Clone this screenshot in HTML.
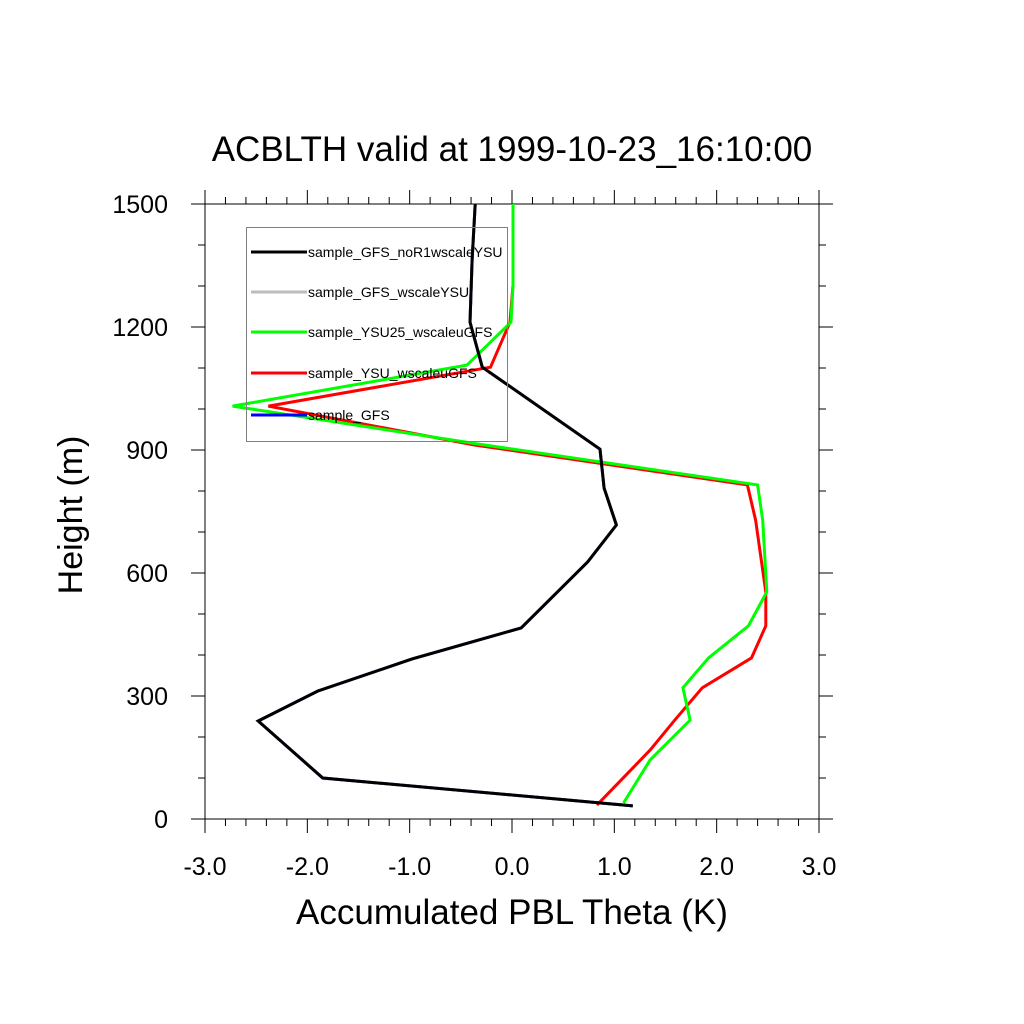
<!DOCTYPE html>
<html><head><meta charset="utf-8"><style>
body{margin:0;background:#fff;}
svg{display:block;font-family:"Liberation Sans",sans-serif;}
</style></head><body>
<svg id="chart" width="1024" height="1024" viewBox="0 0 1024 1024">
<rect width="1024" height="1024" fill="#fff"/>
<text x="512" y="161" text-anchor="middle" font-size="35">ACBLTH valid at 1999-10-23_16:10:00</text>
<text x="512" y="924" text-anchor="middle" font-size="35">Accumulated PBL Theta (K)</text>
<text transform="translate(82,515) rotate(-90)" text-anchor="middle" font-size="34">Height (m)</text>
<g id="axes"></g>
<g id="series"></g>
<g id="legend"></g>
</svg>
<script>
const xTicks=[-3,-2,-1,0,1,2,3];
const xTickLabels=["-3.0","-2.0","-1.0","0.0","1.0","2.0","3.0"];
const yTicks=[0,300,600,900,1200,1500];
const yTickLabels=["0","300","600","900","1200","1500"];
const seriesNames=["sample_GFS_noR1wscaleYSU","sample_GFS_wscaleYSU","sample_YSU25_wscaleuGFS","sample_YSU_wscaleuGFS","sample_GFS"];
const blackX=[-0.36,-0.39,-0.41,-0.29,0.86,0.90,1.02,0.74,0.09,-0.98,-1.90,-2.48,-1.85,1.18];
const blackH=[1500,1363,1212,1102,902,807,717,627,466,390,312,239,100,32];
const greenX=[0.01,0.01,-0.01,-0.44,-2.73,-0.26,2.40,2.45,2.49,2.31,1.92,1.67,1.74,1.35,1.09];
const greenH=[1500,1302,1212,1107,1007,912,815,729,554,471,393,320,241,144,39];
const redX=[0.01,0.01,-0.02,-0.21,-2.38,-0.36,2.30,2.38,2.48,2.48,2.34,1.86,1.59,1.35,0.83];
const redH=[1500,1302,1212,1102,1007,912,815,729,554,471,393,320,241,168,34];

const NS="http://www.w3.org/2000/svg";
const L=205,R=819,T=204,B=819;
const sx=v=>L+(v+3)/6*(R-L);
const sy=h=>B-h/1500*(B-T);
function mk(tag,attrs,parent){const e=document.createElementNS(NS,tag);for(const k in attrs)e.setAttribute(k,attrs[k]);parent.appendChild(e);return e;}
const axes=document.getElementById('axes');
let fr=mk('rect',{x:L,y:T,width:R-L,height:B-T,fill:'none',stroke:'#000','stroke-width':1},axes);


let ext=mk('path',{d:`M${L},${T} H833 M${L},${B} H833 M${L},190 V${B} M${R},190 V833`,stroke:'#000','stroke-width':1,fill:'none'},axes);


for(let v=-3;v<=3.001;v+=0.2){
  const major=Math.abs(v-Math.round(v))<0.01;
  const x=sx(v),len=major?14:7;
  const t=mk('path',{d:`M${x},${B} V${B+len} M${x},${T-len} V${T}`,stroke:'#000','stroke-width':1},axes);
  
  
}
xTicks.forEach((v,i)=>{
  const t=mk('text',{x:sx(v),y:875,'text-anchor':'middle','font-size':25},axes);
  t.textContent=xTickLabels[i];
  
  
});
for(let h=0;h<=1500;h+=100){
  const major=h%300===0;const y=sy(h),len=major?14:7;
  const t=mk('path',{d:`M${L-len},${y} H${L} M${R},${y} H${R+len}`,stroke:'#000','stroke-width':1},axes);
  
  
}
yTicks.forEach((v,i)=>{
  const t=mk('text',{x:168,y:sy(v)+9,'text-anchor':'end','font-size':25},axes);
  t.textContent=yTickLabels[i];
  
  
});
const ser=document.getElementById('series');
function line(xs,hs,color,name){
  const d=xs.map((v,i)=>(i?'L':'M')+sx(v).toFixed(1)+','+sy(hs[i]).toFixed(1)).join(' ');
  const p=mk('path',{d:d,fill:'none',stroke:color,'stroke-width':3,'stroke-linejoin':'miter'},ser);
  
  
}
line(blackX,blackH,'#0000ff','line-sample-gfs');
line(blackX,blackH,'#bdbdbd','line-sample-gfs-wscaleysu');
line(redX,redH,'#ff0000','line-sample-ysu-wscaleugfs');
line(greenX,greenH,'#00ff00','line-sample-ysu25-wscaleugfs');
line(blackX,blackH,'#000000','line-sample-gfs-nor1wscaleysu');
const lg=document.getElementById('legend');
const lb=mk('rect',{x:246.5,y:227.5,width:261,height:214,fill:'none',stroke:'#808080','stroke-width':1},lg);


const colors=['#000000','#bdbdbd','#00ff00','#ff0000','#0000ff'];
const ly=[252,292,332,373,415];
seriesNames.forEach((n,i)=>{
  const s=mk('line',{x1:251,x2:307,y1:ly[i],y2:ly[i],stroke:colors[i],'stroke-width':3},lg);
  
  
  const t=mk('text',{x:308,y:ly[i]+5,'font-size':14},lg);
  t.textContent=n;
  
  
});
</script>
</body></html>
